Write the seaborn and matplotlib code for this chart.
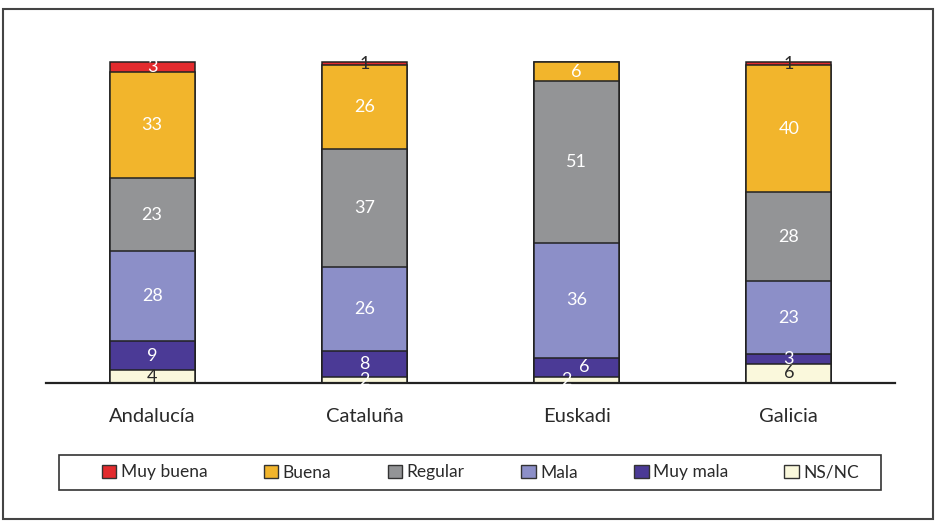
import matplotlib
matplotlib.use("Agg")
import matplotlib.pyplot as plt
import seaborn as sns
import numpy as np
import pandas as pd
from matplotlib.patches import Rectangle, Patch

sns.set_theme(style="white")
plt.rcParams['font.family'] = ['Lato', 'DejaVu Sans']

categories = ["Andalucía", "Cataluña", "Euskadi", "Galicia"]
series_names = ["Muy buena", "Buena", "Regular", "Mala", "Muy mala", "NS/NC"]
muy_buena = [3, 1, 0, 1]
buena = [33, 26, 6, 40]
regular = [23, 37, 51, 28]
mala = [28, 26, 36, 23]
muy_mala = [9, 8, 6, 3]
nsnc = [4, 2, 2, 6]

colors = {"Muy buena": "#E32B2E", "Buena": "#F2B52C", "Regular": "#939496",
          "Mala": "#8C8FC8", "Muy mala": "#4B3A96", "NS/NC": "#FAF8DC"}

values = {"Muy buena": muy_buena, "Buena": buena, "Regular": regular,
          "Mala": mala, "Muy mala": muy_mala, "NS/NC": nsnc}
stack_order = ["NS/NC", "Muy mala", "Mala", "Regular", "Buena", "Muy buena"]

# 100% stacked: normalise each column
totals = np.sum([values[s] for s in series_names], axis=0).astype(float)
pct = {s: np.array(values[s]) / totals * 100 for s in series_names}

fig = plt.figure(figsize=(9.36, 5.21), dpi=100)
ax = fig.add_axes([46/936, 1-383/521, (895-46)/936, (383-30)/521])

cum = np.zeros(len(categories))
cums = {}
bottoms = {}
for s in stack_order:
    bottoms[s] = cum.copy()
    cum = cum + pct[s]
    cums[s] = cum.copy()

for s in reversed(stack_order):
    df = pd.DataFrame({"cat": categories, "val": cums[s]})
    sns.barplot(data=df, x="cat", y="val", color=colors[s], width=0.4,
                edgecolor="#222222", linewidth=1.1, saturation=1, ax=ax)

dark = "#2a2a2a"
for i, c in enumerate(categories):
    for s in stack_order:
        v = values[s][i]
        if v == 0:
            continue
        y = bottoms[s][i] + pct[s][i] / 2
        if s == "NS/NC":
            col = dark if v >= 3 else "white"
        elif s == "Muy buena":
            col = dark if v < 2 else "white"
        else:
            col = "white"
        xo = 0
        if s == "Muy mala" and values["NS/NC"][i] <= 2 and v <= 6:
            xo = 0.035
        if s == "NS/NC" and values["Muy mala"][i] <= 6 and v <= 2:
            xo = -0.05
        ax.text(i + xo, y, str(v), ha="center", va="center", color=col,
                fontsize=13)

ax.set_ylim(0, 110)
ax.set_xlim(-0.5, len(categories) - 0.5)
ax.set_xlabel("")
ax.set_ylabel("")
ax.set_yticks([])
for sp in ["top", "right", "left"]:
    ax.spines[sp].set_visible(False)
ax.spines["bottom"].set_color("#222222")
ax.spines["bottom"].set_linewidth(1.6)
ax.set_xticks(range(len(categories)))
ax.set_xticklabels(categories, fontsize=14.5, color="#2a2a2a")
ax.tick_params(axis="x", which="major", length=0, pad=18)
ax.set_xticks(np.arange(-0.5, len(categories)), minor=True)
ax.tick_params(axis="x", which="minor", length=6, width=1.6, color="#222222",
               direction="out")
ax.patch.set_alpha(0)

# legend box
fig.patches.append(Rectangle((59/936, 1-490/521), (881-59)/936, 35/521,
                             transform=fig.transFigure, fill=False,
                             edgecolor="#333333", linewidth=1.2))
handles = [Patch(facecolor=colors[s], edgecolor="#333333", linewidth=1.0, label=s)
           for s in series_names]
leg = fig.legend(handles=handles, loc="center", ncol=6,
                 bbox_to_anchor=(93/936, 1-490/521, (868-93)/936, 35/521),
                 mode="expand", frameon=False, fontsize=12.5,
                 handlelength=0.85, handleheight=0.85, handletextpad=0.25,
                 borderaxespad=0, borderpad=0.5)
for t in leg.get_texts():
    t.set_color("#2a2a2a")

fig.patches.append(Rectangle((3/936, 2/521), 930/936, (519-9)/521,
                             transform=fig.transFigure, fill=False,
                             edgecolor="#444444", linewidth=1.5))

fig.savefig("out.png", dpi=100)
